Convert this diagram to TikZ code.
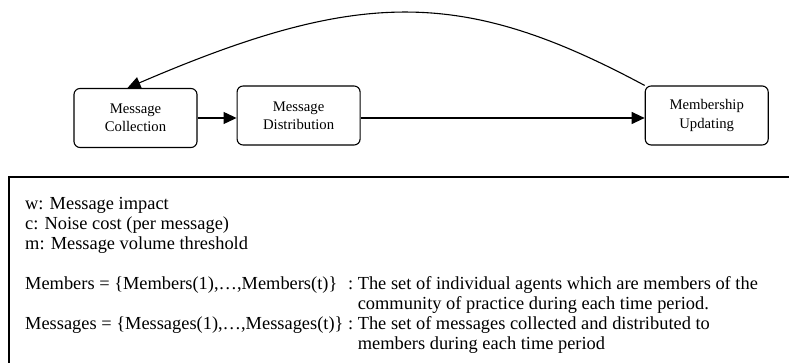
\documentclass[tikz,border=0pt]{standalone}
\usepackage{fontspec}
\setmainfont{Liberation Serif}
\usetikzlibrary{arrows.meta, positioning}
\tikzset{
  stage/.style={draw, rounded corners=6pt, line width=1.1pt, align=center, minimum height=59pt, minimum width=123pt, font=\fontsize{14.7}{18.3}\selectfont},
  arrow/.style={-{Triangle[length=13pt, width=12pt]}, line width=1.1pt},
  frame/.style={line width=1.1pt},
  legend/.style={inner sep=0pt, font=\fontsize{18.4}{20}\selectfont}
}

\begin{document}
\begin{tikzpicture}[x=1pt, y=1pt, node distance=39pt]
    \useasboundingbox (0,0) rectangle (789,363);

    % the three stages of one time period
    \node[stage] (coll) at (135.5,245) {Message\\Collection};
    \node[stage, right=39pt of coll, yshift=2.5pt] (dist) {Message\\Distribution};
    \node[stage, right=284pt of dist] (memb) {Membership\\Updating};

    \draw[arrow] (coll.east) -- (coll.east -| dist.west);
    \draw[arrow] (dist.east |- coll.east) -- (memb.west |- coll.east);
    \draw[arrow] (memb.north west) .. controls (463,375) and (360,375) .. ([xshift=-8pt]coll.north);

    % legend box
    \draw[frame] (789,186) -- (9,186) -- (9,0);
    \node[legend, anchor=base west] (defs) at (25,153) {%
      \begin{tabular}[t]{@{}l@{\ }l@{\ }l@{}}
        \multicolumn{3}{@{}l@{}}{w: Message impact}\\
        \multicolumn{3}{@{}l@{}}{c: Noise cost (per message)}\\
        \multicolumn{3}{@{}l@{}}{m: Message volume threshold}\\
        \\
        Members = \{Members(1),…,Members(t)\} & : & The set of individual agents which are members of the\\
        & & community of practice during each time period.\\
        Messages = \{Messages(1),…,Messages(t)\} & : & The set of messages collected and distributed to\\
        & & members during each time period
      \end{tabular}};
\end{tikzpicture}
\end{document}
